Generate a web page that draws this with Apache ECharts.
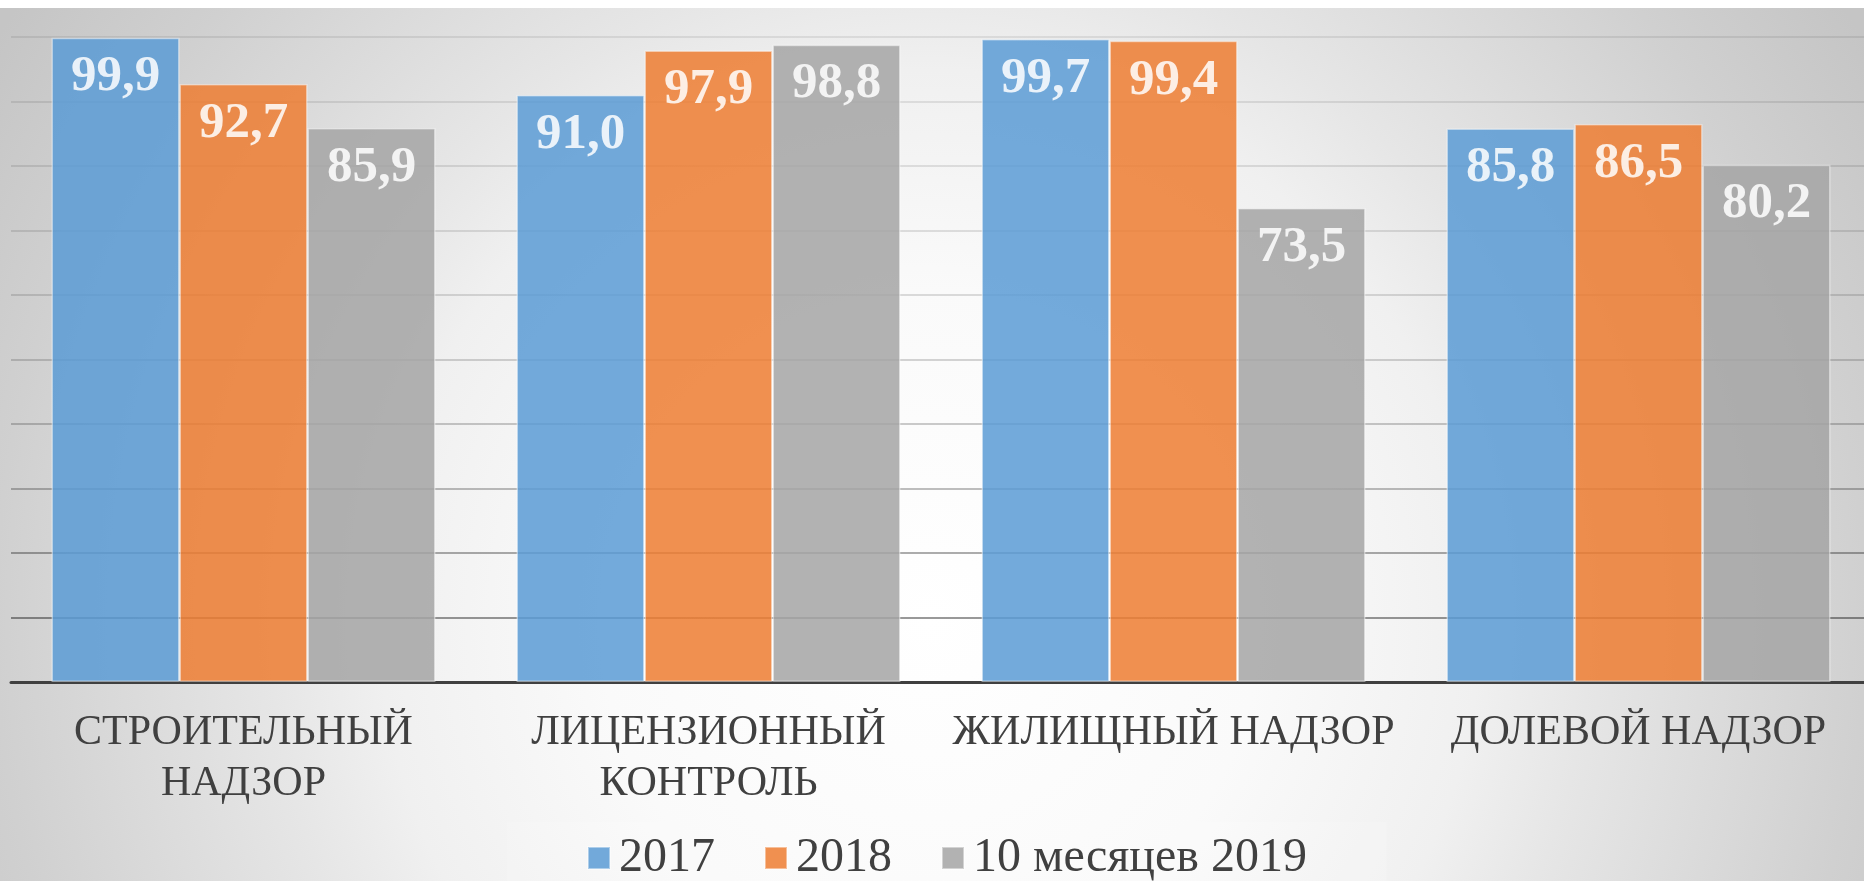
<!DOCTYPE html>
<html>
<head>
<meta charset="utf-8">
<script src="https://cdn.jsdelivr.net/npm/echarts@6/dist/echarts.min.js"></script>
<style>
    html, body {margin: 0; padding: 0; background: #ffffff; overflow: hidden;}
    /* a little wider than the window: the last bars sit right at the edge */
    #main {width: 1880px; height: 881px;}
</style>
</head>
<body>
<div id="main"></div>
<script>
var categories = ['СТРОИТЕЛЬНЫЙ\nНАДЗОР', 'ЛИЦЕНЗИОННЫЙ\nКОНТРОЛЬ', 'ЖИЛИЩНЫЙ НАДЗОР', 'ДОЛЕВОЙ НАДЗОР'];
var seriesNames = ['2017', '2018', '10 месяцев 2019'];
var values2017 = [99.9, 91.0, 99.7, 85.8];
var values2018 = [92.7, 97.9, 99.4, 86.5];
var values2019 = [85.9, 98.8, 73.5, 80.2];

var chart = echarts.init(document.getElementById('main'));

// grid lines get darker towards the bottom, like in the slide
var gridColors = [
    'rgba(0,0,0,0.40)', 'rgba(0,0,0,0.32)', 'rgba(0,0,0,0.25)', 'rgba(0,0,0,0.20)',
    'rgba(0,0,0,0.16)', 'rgba(0,0,0,0.13)', 'rgba(0,0,0,0.11)', 'rgba(0,0,0,0.10)',
    'rgba(0,0,0,0.09)', 'rgba(0,0,0,0.08)'
];

function barSeries(name, data, color) {
    return {
        name: name,
        type: 'bar',
        data: data,
        barWidth: 128,
        barGap: '0%',
        itemStyle: {
            color: color,
            opacity: 0.85,
            borderColor: 'rgba(255,255,255,0.5)',
            borderWidth: 1.5
        },
        label: {
            show: true,
            position: 'insideTop',
            distance: 14,
            color: '#ffffff',
            fontFamily: 'Liberation Serif',
            fontWeight: 'bold',
            fontSize: 51,
            formatter: function (p) {
                return p.value.toFixed(1).replace('.', ',');
            }
        }
    };
}

var option = {
    animation: false,
    graphic: [
        {
            type: 'rect',
            z: -100,
            silent: true,
            shape: {x: 0, y: 8, width: 1880, height: 873},
            style: {
                fill: {
                    type: 'radial', x: 930, y: 620, r: 1100, global: true,
                    colorStops: [
                        {offset: 0, color: '#ffffff'},
                        {offset: 0.3, color: '#fafafa'},
                        {offset: 0.5, color: '#f0f0f0'},
                        {offset: 0.6, color: '#e6e6e6'},
                        {offset: 0.85, color: '#d0d0d0'},
                        {offset: 1, color: '#c5c5c5'}
                    ]
                }
            }
        }
    ],
    grid: {
        left: 11,
        top: 37,
        width: 1860,
        height: 645,
        containLabel: false
    },
    legend: {
        data: seriesNames,
        top: 822,
        left: 507,
        padding: [12, 80, 12, 80],
        backgroundColor: 'rgba(255,255,255,0.15)',
        icon: 'rect',
        itemWidth: 22,
        itemHeight: 22,
        itemGap: 49,
        textStyle: {
            fontFamily: 'Liberation Serif',
            fontSize: 48,
            color: '#404040',
            padding: [0, 0, 0, 4]
        }
    },
    xAxis: {
        type: 'category',
        data: categories,
        axisTick: {show: false},
        axisLine: {lineStyle: {color: '#404040', width: 3}},
        axisLabel: {
            interval: 0,
            margin: 25,
            fontFamily: 'Liberation Serif',
            fontSize: 42,
            lineHeight: 51,
            color: '#404040'
        }
    },
    yAxis: {
        type: 'value',
        min: 0,
        max: 100,
        interval: 10,
        axisLabel: {show: false},
        axisLine: {show: false},
        axisTick: {show: false},
        splitLine: {
            showMinLine: false,
            lineStyle: {color: gridColors, width: 2}
        }
    },
    series: [
        barSeries(seriesNames[0], values2017, '#5b9bd5'),
        barSeries(seriesNames[1], values2018, '#ed7d31'),
        barSeries(seriesNames[2], values2019, '#a5a5a5')
    ]
};

chart.setOption(option);
</script>
</body>
</html>
